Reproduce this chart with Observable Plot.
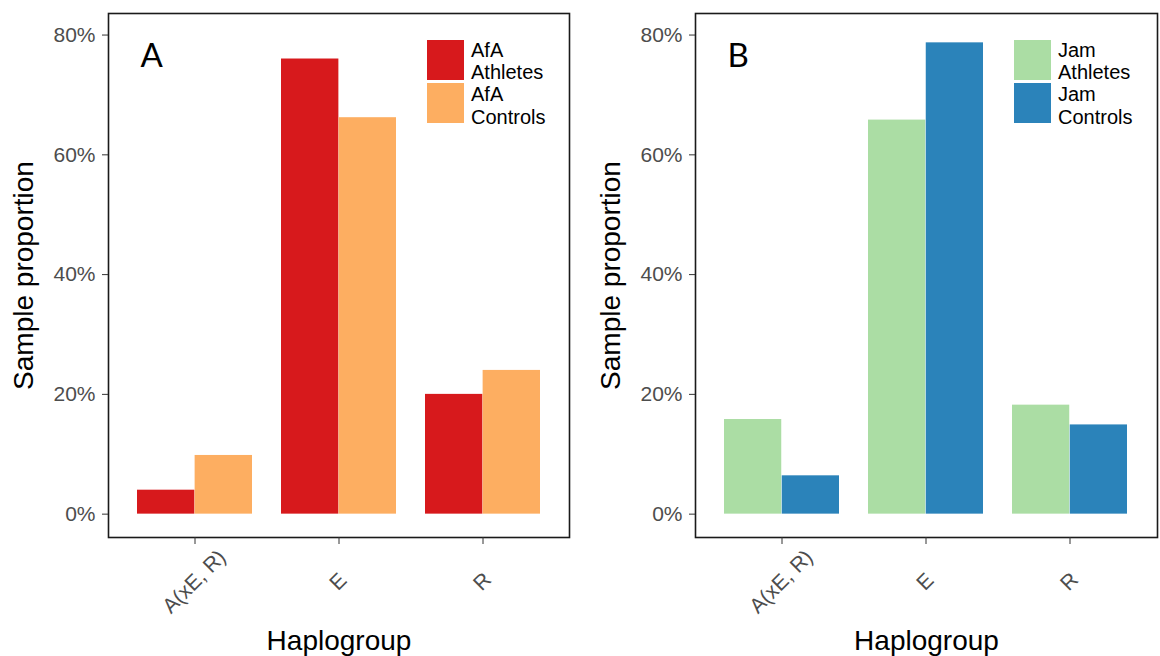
<!DOCTYPE html>
<html><head><meta charset="utf-8">
<script src="https://cdn.jsdelivr.net/npm/d3@7"></script>
<script src="https://cdn.jsdelivr.net/npm/@observablehq/plot@0.6"></script>
<style>
body{margin:0;background:#fff;}
#wrap{position:relative;width:1160px;height:656px;display:flex;overflow:hidden;}
.panel{position:relative;flex:none;}
.sw{position:absolute;}
.kl{position:absolute;font-family:'Liberation Sans',Arial,sans-serif;font-size:20px;line-height:18.5px;color:#000;white-space:nowrap;}
</style></head><body><div id="wrap"></div><script>
const haplogroups = ["A(xE, R)", "E", "R"];
const afaAthletes = [4.0, 76.0, 20.0];
const afaControls = [9.8, 66.2, 24.0];
const jamAthletes = [15.8, 65.8, 18.2];
const jamControls = [6.4, 78.7, 14.9];
const yTicks = [0, 20, 40, 60, 80];
const seriesNamesA = ["AfA Athletes", "AfA Controls"];
const seriesNamesB = ["Jam Athletes", "Jam Controls"];
const colorsA = ["#D7191C", "#FDAE61"];
const colorsB = ["#ABDDA4", "#2B83BA"];
const xTitle = "Haplogroup";
const yTitle = "Sample proportion";

function makePanel({letter, names, series, colors, width, marginRight}) {
  const marginLeft = 108, marginTop = 13, marginBottom = 119;
  const plotW = width - marginLeft - marginRight;
  const bw = plotW / 3.2 * 0.8;
  const rows = series.map((vals, s) => haplogroups.map((h, i) => ({hap: h, value: vals[i], series: names[s]})));
  const chart = Plot.plot({
    width, height: 656, marginLeft, marginRight, marginTop, marginBottom,
    style: {fontFamily: "'Liberation Sans', Arial, sans-serif", fontSize: "21px", background: "#fff", overflow: "visible"},
    x: {type: "band", domain: haplogroups, paddingInner: 0.2, paddingOuter: 0.2, label: null},
    y: {domain: [-3.9, 83.6], label: null},
    marks: [
      Plot.barY(rows[0], {x: "hap", y1: 0, y2: "value", fill: colors[0], insetLeft: 0, insetRight: bw / 2}),
      Plot.barY(rows[1], {x: "hap", y1: 0, y2: "value", fill: colors[1], insetLeft: bw / 2, insetRight: 0}),
      Plot.frame({stroke: "#1a1a1a", strokeWidth: 1.6}),
      Plot.axisY(yTicks, {tickSize: 6, tickPadding: 7, tickFormat: d => d + "%", fill: "#4D4D4D", stroke: "#333", label: null, fontSize: 21}),
      Plot.axisX(haplogroups, {tickSize: 7, stroke: "#333", tickFormat: () => "", label: null}),
      Plot.text(haplogroups, {x: d => d, text: d => d, frameAnchor: "bottom", dx: 4, dy: 49, rotate: -45, textAnchor: "middle", fill: "#4D4D4D", fontSize: 21}),
      Plot.text([xTitle], {text: d => d, frameAnchor: "bottom", dy: 112, textAnchor: "middle", fontSize: 28, fill: "#000"}),
      Plot.text([yTitle], {text: d => d, frameAnchor: "left", dx: -84, rotate: -90, textAnchor: "middle", fontSize: 28, fill: "#000"}),
      Plot.text([letter], {text: d => d, frameAnchor: "top-left", dx: 32, dy: 30, textAnchor: "start", fontSize: 33, fontFamily: "Lato", fill: "#000"})
    ]
  });
  const div = document.createElement("div");
  div.className = "panel";
  div.style.width = width + "px";
  div.style.height = "656px";
  div.appendChild(chart);
  const kx = marginLeft + 319;
  const swTops = [40, 83.3];
  const lineTops = [[40.6, 63.0], [85.3, 107.6]];
  names.forEach((name, s) => {
    const sw = document.createElement("div");
    sw.className = "sw";
    Object.assign(sw.style, {left: kx + "px", top: swTops[s] + "px", width: "37px", height: "40px", background: colors[s]});
    div.appendChild(sw);
    const parts = name.split(" ");
    parts.forEach((p, j) => {
      const t = document.createElement("div");
      t.className = "kl";
      t.textContent = p;
      Object.assign(t.style, {left: (kx + 44) + "px", top: lineTops[s][j] + "px"});
      div.appendChild(t);
    });
  });
  return div;
}

const wrap = document.getElementById("wrap");
wrap.appendChild(makePanel({letter: "A", names: seriesNamesA, series: [afaAthletes, afaControls], colors: colorsA, width: 587, marginRight: 18}));
wrap.appendChild(makePanel({letter: "B", names: seriesNamesB, series: [jamAthletes, jamControls], colors: colorsB, width: 573, marginRight: 3}));
</script></body></html>
